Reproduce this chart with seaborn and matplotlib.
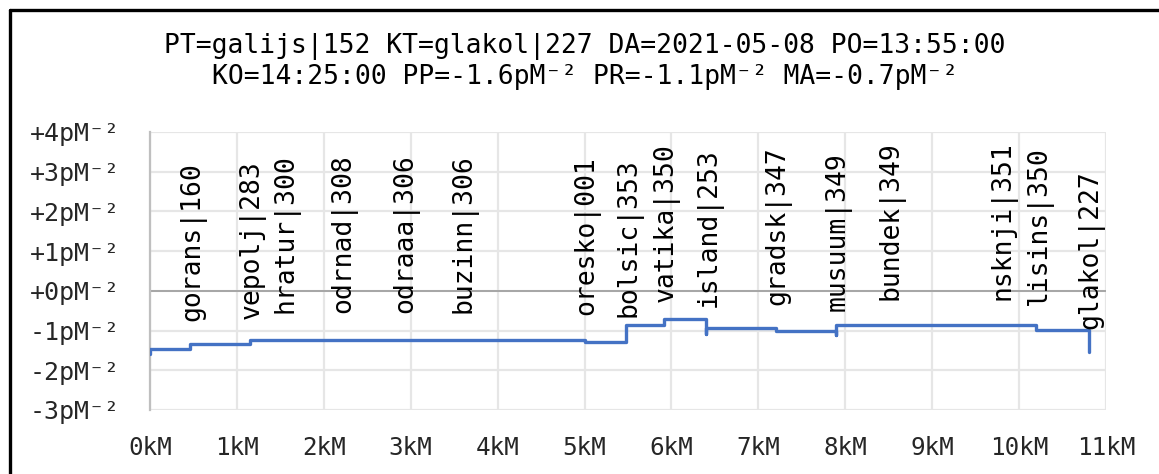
import numpy as np
import pandas as pd
import matplotlib
matplotlib.use("Agg")
import matplotlib.pyplot as plt
import matplotlib.ticker as mticker
from matplotlib.lines import Line2D
import seaborn as sns

# --- data ------------------------------------------------------------------
stations = ["galijs|152", "gorans|160", "vepolj|283", "hratur|300", "odrnad|308",
            "odraaa|306", "buzinn|306", "oresko|001", "bolsic|353", "vatika|350",
            "island|253", "gradsk|347", "musuum|349", "bundek|349", "nsknji|351",
            "lisins|350", "glakol|227"]
station_km = [0.0, 0.46, 1.15, 1.53, 2.20, 2.91, 3.58, 5.00, 5.48, 5.91,
              6.40, 7.20, 7.89, 8.50, 9.79, 10.20, 10.80]
# pressure level after each station and the short dip reached at the station
level = [-1.47, -1.33, -1.23, -1.23, -1.23, -1.23, -1.23, -1.28, -0.87, -0.70,
         -0.93, -1.00, -0.87, -0.87, -0.87, -0.98, -1.55]
dip = [-1.58, None, None, None, None, None, None, None, None, None,
       -1.08, None, -1.10, None, None, None, None]
# height where each station label starts (first station has no label)
label_base = [None, -0.77, -0.70, -0.57, -0.57, -0.57, -0.57, -0.61, -0.65, -0.27,
              -0.40, -0.36, -0.51, -0.24, -0.24, -0.35, -0.95]

title_lines = ["PT=galijs|152 KT=glakol|227 DA=2021-05-08 PO=13:55:00",
               "KO=14:25:00 PP=-1.6pM\u207b\u00b2 PR=-1.1pM\u207b\u00b2 MA=-0.7pM\u207b\u00b2"]
y_ticks = [-3, -2, -1, 0, 1, 2, 3, 4]
x_ticks = list(range(0, 12))

# --- build the step trace ---------------------------------------------------
xs, ys = [], []
prev = None
for km, lv, dp in zip(station_km, level, dip):
    if prev is not None:
        xs.append(km); ys.append(prev)
    if dp is not None:
        xs.append(km); ys.append(dp)
    xs.append(km); ys.append(lv)
    prev = lv
trace = pd.DataFrame({"km": xs, "val": ys})

# --- style ------------------------------------------------------------------
sns.set_theme(style="whitegrid")
MONO = ["DejaVu Sans Mono", "DejaVu Sans"]
plt.rcParams["font.family"] = MONO
plt.rcParams["text.color"] = "#000000"

fig = plt.figure(figsize=(11.59, 4.74), dpi=100)
fig.patch.set_facecolor("white")
ax = fig.add_axes([150 / 1159, 1 - 410 / 474, (1106 - 150) / 1159, (410 - 132) / 474])

sns.lineplot(data=trace, x="km", y="val", sort=False, estimator=None,
             color="#4472C4", linewidth=2.4, ax=ax, zorder=3)

ax.axhline(0, color="#a6a6a6", linewidth=1.4, zorder=2)

for name, km, base in zip(stations, station_km, label_base):
    if base is None:
        continue
    ax.text(km + 0.03, base, name, rotation=90, ha="center", va="bottom",
            fontsize=19, family=MONO, color="#000000", zorder=4)

ax.set_xlim(0, 11)
ax.set_ylim(-3, 4)
ax.set_xticks(x_ticks)
ax.set_yticks(y_ticks)
ax.xaxis.set_major_formatter(mticker.FuncFormatter(lambda v, _: f"{int(v)}kM"))
ax.yaxis.set_major_formatter(
    mticker.FuncFormatter(lambda v, _: f"{int(v):+d}pM\u207b\u00b2"))
ax.tick_params(axis="y", length=0, pad=22, labelsize=18)
ax.tick_params(axis="x", length=0, pad=19, labelsize=17.5)
for lab in ax.get_xticklabels() + ax.get_yticklabels():
    lab.set_family(MONO)
ax.set_xlabel("")
ax.set_ylabel("")
ax.grid(True, color="#e6e6e6", linewidth=1.6)
ax.set_axisbelow(True)
for side in ["top", "right", "bottom"]:
    ax.spines[side].set_visible(False)
ax.spines["left"].set_color("#bfbfbf")
ax.spines["left"].set_linewidth(1.6)

fig.text(585 / 1159, 1 - 46 / 474, title_lines[0], ha="center", va="center",
         fontsize=19, family=MONO)
fig.text(585 / 1159, 1 - 77 / 474, title_lines[1], ha="center", va="center",
         fontsize=19, family=MONO)

# outer frame (only top and left edges are visible in the crop)
fig.add_artist(Line2D([9.5 / 1159, 9.5 / 1159], [0, 1 - 9.5 / 474],
                      transform=fig.transFigure, color="black", linewidth=2.4))
fig.add_artist(Line2D([9.5 / 1159, 1], [1 - 9.5 / 474, 1 - 9.5 / 474],
                      transform=fig.transFigure, color="black", linewidth=2.4))

fig.savefig("out.png", dpi=100, facecolor="white")
